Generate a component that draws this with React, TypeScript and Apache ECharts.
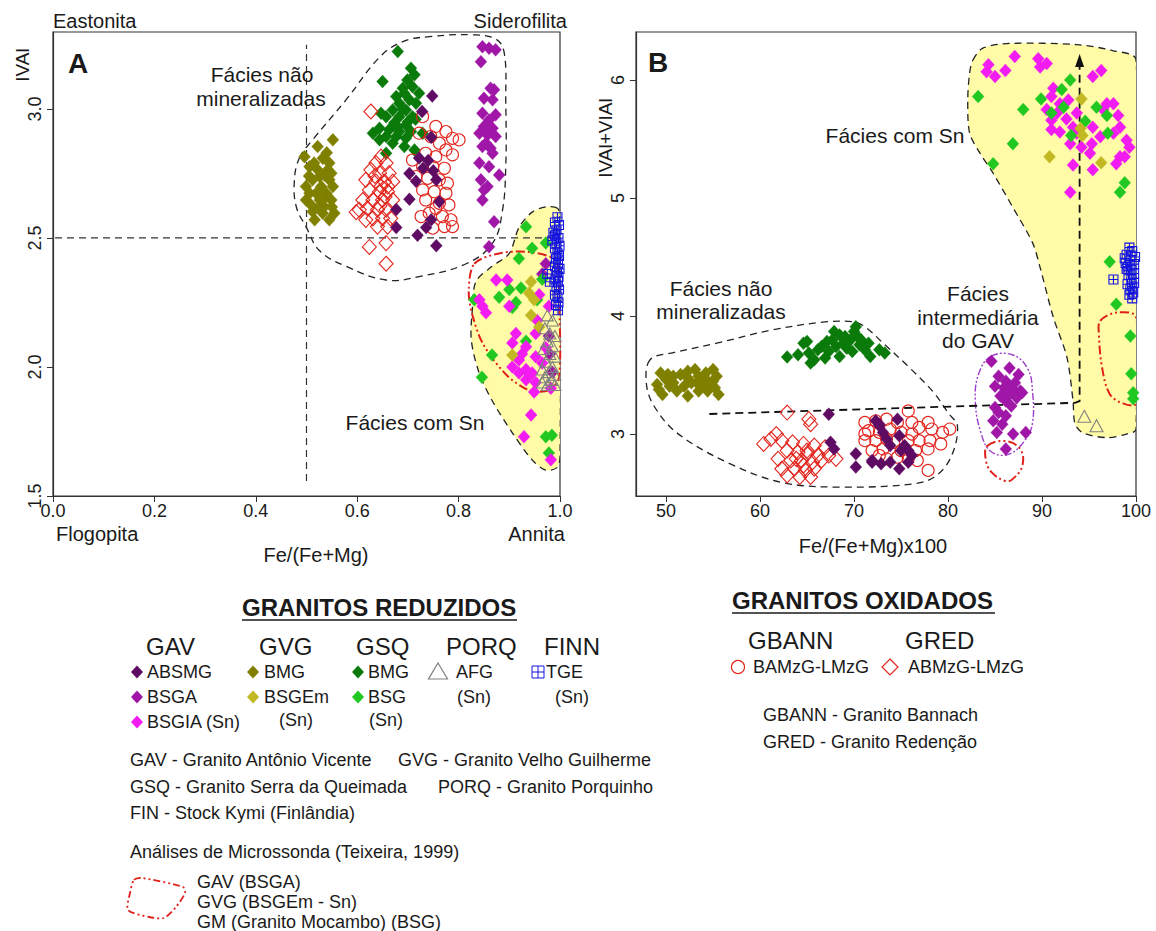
import React, { useEffect, useRef } from 'react';
import * as echarts from 'echarts';

// ---------- tick labels ----------
const ticksAx = [0, 0.2, 0.4, 0.6, 0.8, 1.0];
const ticksAy = [1.5, 2.0, 2.5, 3.0];
const ticksBx = [50, 60, 70, 80, 90, 100];
const ticksBy = [3, 4, 5, 6];

// ---------- Panel A data: Fe/(Fe+Mg) vs IVAl ----------
const A_GVG_BMG = [[0.522,2.854],[0.552,2.88],[0.496,2.815],[0.532,2.809],[0.506,2.776],[0.545,2.79],[0.522,2.764],[0.535,2.744],[0.512,2.725],[0.545,2.725],[0.552,2.699],[0.529,2.699],[0.499,2.699],[0.519,2.673],[0.539,2.673],[0.549,2.647],[0.526,2.647],[0.509,2.628],[0.535,2.621],[0.512,2.602],[0.555,2.596],[0.545,2.57],[0.499,2.647],[0.532,2.596],[0.542,2.764],[0.526,2.738],[0.506,2.673],[0.516,2.57],[0.549,2.751],[0.532,2.647],[0.515,2.79],[0.54,2.83],[0.505,2.74],[0.525,2.62],[0.55,2.62]];
const A_GSQ_BMG = [[0.680,3.222],[0.706,3.158],[0.713,3.132],[0.650,3.106],[0.699,3.112],[0.709,3.086],[0.693,3.061],[0.677,3.048],[0.703,3.035],[0.683,3.022],[0.716,3.022],[0.670,2.996],[0.696,2.996],[0.647,2.983],[0.657,2.97],[0.683,2.97],[0.709,2.97],[0.673,2.945],[0.696,2.938],[0.644,2.925],[0.663,2.919],[0.683,2.912],[0.706,2.912],[0.631,2.906],[0.657,2.893],[0.677,2.893],[0.696,2.886],[0.644,2.88],[0.670,2.867],[0.693,2.854],[0.657,2.828],[0.713,2.841],[0.729,2.906],[0.690,3.08],[0.722,3.061],[0.69,3.0],[0.70,2.95],[0.68,2.93],[0.715,2.96]];
const A_GRED = [[0.627,2.99],[0.647,2.815],[0.637,2.79],[0.657,2.79],[0.627,2.764],[0.644,2.751],[0.663,2.751],[0.617,2.725],[0.637,2.718],[0.654,2.718],[0.670,2.718],[0.624,2.686],[0.644,2.679],[0.660,2.679],[0.611,2.647],[0.631,2.647],[0.650,2.647],[0.670,2.647],[0.620,2.615],[0.640,2.609],[0.657,2.609],[0.604,2.609],[0.631,2.576],[0.650,2.576],[0.666,2.576],[0.617,2.57],[0.640,2.544],[0.660,2.544],[0.598,2.60],[0.624,2.465],[0.657,2.48],[0.657,2.40],[0.647,2.70],[0.635,2.74],[0.655,2.66],[0.645,2.625],[0.66,2.70]];
const A_GBANN = [[0.729,2.97],[0.755,2.932],[0.775,2.912],[0.722,2.906],[0.745,2.893],[0.788,2.886],[0.801,2.88],[0.762,2.867],[0.775,2.841],[0.735,2.828],[0.755,2.815],[0.788,2.822],[0.709,2.802],[0.729,2.776],[0.749,2.776],[0.772,2.77],[0.716,2.738],[0.739,2.731],[0.762,2.725],[0.778,2.712],[0.729,2.686],[0.752,2.679],[0.775,2.673],[0.735,2.647],[0.762,2.634],[0.781,2.628],[0.742,2.596],[0.768,2.583],[0.785,2.57],[0.749,2.538],[0.772,2.544],[0.788,2.544],[0.726,2.583],[0.755,2.615]];
const A_ABSMG = [[0.748,3.05],[0.728,2.99],[0.746,2.89],[0.722,2.81],[0.74,2.80],[0.703,2.75],[0.716,2.72],[0.756,2.725],[0.703,2.65],[0.677,2.61],[0.762,2.64],[0.746,2.57],[0.736,2.54],[0.677,2.54],[0.719,2.51],[0.756,2.47],[0.73,2.77],[0.75,2.76]];
const A_BSGA = [[0.847,3.241],[0.860,3.235],[0.873,3.229],[0.844,3.183],[0.863,3.08],[0.870,3.074],[0.850,3.041],[0.867,3.035],[0.847,2.983],[0.873,2.977],[0.860,2.957],[0.850,2.932],[0.867,2.925],[0.841,2.906],[0.857,2.899],[0.873,2.893],[0.854,2.867],[0.847,2.854],[0.863,2.848],[0.867,2.828],[0.841,2.79],[0.860,2.776],[0.880,2.744],[0.844,2.725],[0.857,2.699],[0.850,2.686],[0.847,2.647],[0.870,2.563],[0.860,2.466],[0.972,2.40],[0.965,2.36],[0.98,2.05],[0.985,1.98],[0.978,2.12]];
const A_BSGIA = [[0.874,2.337],[0.896,2.337],[0.841,2.26],[0.847,2.235],[0.854,2.21],[0.90,2.235],[0.959,2.28],[0.978,2.235],[0.955,2.18],[0.913,2.13],[0.906,2.093],[0.952,2.13],[0.933,2.078],[0.952,2.04],[0.919,2.027],[0.906,2.0],[0.933,1.99],[0.919,1.977],[0.945,1.977],[0.933,1.95],[0.952,1.94],[0.949,1.903],[0.982,1.918],[0.943,1.814],[0.929,1.73],[0.982,1.64],[0.965,2.015],[0.972,2.074],[0.925,2.05],[0.94,1.97]];
const A_BSGEm = [[0.943,2.33],[0.939,2.287],[0.949,2.26],[0.943,2.20],[0.959,2.155],[0.906,2.046]];
const A_BSG = [[0.933,2.543],[0.945,2.46],[0.972,2.48],[0.919,2.42],[0.965,2.34],[0.90,2.30],[0.923,2.306],[0.88,2.27],[0.913,2.25],[0.906,2.23],[0.955,2.26],[0.831,2.26],[0.933,2.10],[0.866,2.046],[0.846,1.96],[0.972,1.73],[0.984,1.735],[0.978,1.667]];
const A_AFG = [[0.975,2.20],[0.985,2.18],[0.97,2.15],[0.98,2.13],[0.99,2.12],[0.975,2.10],[0.985,2.08],[0.968,2.07],[0.98,2.05],[0.99,2.04],[0.972,2.02],[0.985,2.0],[0.965,1.99],[0.978,1.98],[0.99,1.97],[0.97,1.96],[0.983,1.95],[0.975,1.93],[0.99,1.93],[0.965,1.94]];
const A_TGE = [[0.995,2.58],[0.99,2.56],[0.998,2.55],[0.993,2.53],[0.99,2.51],[0.997,2.50],[0.993,2.48],[0.999,2.47],[0.99,2.46],[0.995,2.44],[0.998,2.43],[0.992,2.42],[0.996,2.40],[0.99,2.39],[0.999,2.38],[0.994,2.37],[0.997,2.35],[0.991,2.34],[0.996,2.33],[0.993,2.31],[0.998,2.30],[0.99,2.28],[0.995,2.27],[0.997,2.25],[0.992,2.24],[0.996,2.22],[0.975,2.36],[0.98,2.33],[0.985,2.49],[0.987,2.52]];

// Panel A outlines
const A_nonMinOutline = [[0.486,2.81],[0.512,2.88],[0.578,3.035],[0.644,3.2],[0.689,3.26],[0.742,3.28],[0.827,3.287],[0.874,3.27],[0.89,3.217],[0.893,3.035],[0.893,2.775],[0.886,2.6],[0.867,2.48],[0.815,2.40],[0.722,2.35],[0.657,2.337],[0.578,2.39],[0.526,2.45],[0.50,2.54],[0.48,2.62],[0.476,2.72]];
const A_snOutline = [[0.995,2.615],[0.972,2.62],[0.945,2.60],[0.919,2.54],[0.90,2.44],[0.866,2.39],[0.834,2.33],[0.827,2.22],[0.825,2.105],[0.84,1.98],[0.866,1.87],[0.906,1.745],[0.945,1.64],[0.972,1.60],[0.994,1.61],[1.0,1.65],[1.0,2.58]];
const A_probeOutline = [[0.831,2.40],[0.88,2.44],[0.94,2.445],[0.992,2.41],[0.998,2.26],[0.998,1.96],[0.978,1.91],[0.939,1.91],[0.894,1.97],[0.848,2.09],[0.826,2.21],[0.82,2.30]];
const A_vLine = [[0.5,1.558],[0.5,3.249]];
const A_hLine = [[0.004,2.5],[0.996,2.5]];

// ---------- Panel B data: Fe/(Fe+Mg)x100 vs IVAl+VIAl ----------
const B_GVG_BMG = [[49.42,3.518],[50,3.462],[49.04,3.42],[50.77,3.49],[51.54,3.504],[52.31,3.532],[53.08,3.546],[53.46,3.49],[54.23,3.518],[55,3.546],[55.38,3.49],[54.62,3.434],[53.85,3.406],[52.69,3.434],[51.92,3.406],[51.15,3.364],[50.38,3.406],[49.62,3.336],[52.31,3.322],[53.46,3.364],[54.42,3.364],[55.58,3.336],[55.19,3.392],[49.23,3.378],[50.77,3.434],[53.27,3.434],[54.04,3.476],[55,3.448],[52.31,3.476],[50.19,3.504]];
const B_GSQ_BMG = [[62.88,3.653],[64.04,3.672],[64.62,3.77],[65,3.784],[65.38,3.602],[65.77,3.63],[66.15,3.714],[66.54,3.742],[66.92,3.644],[67.31,3.70],[67.69,3.798],[67.88,3.868],[68.08,3.742],[68.46,3.658],[68.85,3.77],[69.04,3.826],[69.23,3.728],[69.62,3.798],[70,3.868],[70.19,3.91],[70.38,3.826],[70.58,3.756],[70.77,3.798],[71.15,3.714],[71.54,3.77],[71.73,3.658],[72.69,3.714],[73.27,3.686],[69.81,3.70],[68.46,3.84],[67.12,3.784],[65.19,3.686]];
const B_GRED = [[62.88,3.182],[65.19,3.126],[65.38,3.084],[61.73,3.0],[61.15,2.958],[62.31,2.944],[60.38,2.916],[63.46,2.93],[64.62,2.916],[65.77,2.902],[66.92,2.888],[62.88,2.86],[64.04,2.846],[65,2.832],[66.15,2.818],[67.31,2.818],[61.92,2.79],[63.27,2.776],[64.42,2.776],[65.58,2.762],[66.54,2.776],[68.08,2.79],[62.31,2.706],[63.65,2.706],[64.81,2.692],[65.77,2.706],[62.88,2.65],[64.23,2.636],[65.38,2.636],[63.85,2.79],[64.62,2.734],[65,2.86]];
const B_GBANN = [[75.77,3.196],[71.15,3.098],[72.31,3.112],[73.46,3.126],[74.62,3.098],[76.15,3.098],[77.88,3.098],[71.54,3.028],[72.69,3.014],[73.85,3.042],[75,3.014],[76.92,3.056],[78.27,3.042],[79.42,3.014],[80.19,3.042],[71.15,2.944],[72.31,2.944],[73.46,2.958],[74.23,2.93],[75.77,2.944],[76.92,2.944],[78.08,2.944],[79.23,2.916],[71.92,2.86],[73.08,2.874],[75,2.86],[76.54,2.86],[77.88,2.874],[73.46,2.79],[75.77,2.79],[76.73,2.776],[77.88,2.692],[72.69,2.818],[74.62,2.804],[71.15,3.0],[76.15,3.0]];
const B_ABSMG = [[67.31,3.168],[67.5,2.93],[67.88,2.874],[70.19,2.832],[70.19,2.72],[71.92,2.762],[72.31,3.112],[72.69,3.07],[73.08,3.014],[73.46,2.958],[73.85,2.902],[74.62,3.126],[74.81,2.986],[75,2.86],[75.38,2.902],[75.77,2.86],[76.15,2.818],[71.92,2.776],[72.88,2.748],[73.85,2.762],[74.81,2.706],[75.77,2.762],[72.69,3.084]];
const B_BSGA = [[84.62,3.616],[86.54,3.56],[87.5,3.504],[85.38,3.49],[86.15,3.448],[87.12,3.434],[85,3.406],[85.96,3.392],[86.92,3.378],[87.69,3.364],[86.54,3.336],[85.58,3.322],[87.31,3.308],[86.15,3.28],[85,3.224],[86.73,3.238],[85.38,3.182],[86.15,3.154],[84.81,3.112],[85.77,3.084],[85.19,3.014],[86.92,3.0],[88.27,3.014],[86.15,2.874],[87.88,3.35],[86.54,3.406]];
const B_BSGIA = [[84.3,6.13],[84.1,6.07],[85.0,6.03],[86.1,6.08],[87.1,6.20],[89.6,6.18],[90.5,6.14],[89.8,6.11],[91.2,5.93],[91.0,5.86],[91.9,5.80],[92.8,5.83],[90.5,5.75],[91.6,5.72],[92.6,5.67],[91.0,5.58],[91.9,5.56],[93.3,5.60],[93.7,5.55],[93.0,5.46],[94.2,5.43],[95.3,5.46],[95.4,5.60],[95.4,6.03],[96.3,6.08],[96.9,5.80],[97.6,5.80],[98.1,5.70],[98.3,5.60],[97.6,5.55],[96.2,5.52],[99.0,5.49],[99.3,5.43],[98.3,5.35],[98.8,5.35],[97.9,5.29],[95.4,5.24],[93.3,5.28],[93.0,5.05],[95.1,5.38],[93.7,5.72],[96.5,5.75],[91.0,5.66]];
const B_BSG = [[83.2,5.86],[88.0,5.75],[86.9,5.46],[84.8,5.29],[89.9,5.84],[92.1,5.92],[93.0,6.0],[91.0,5.72],[92.3,5.77],[93.1,5.53],[94.6,5.65],[95.8,5.77],[96.9,5.70],[97.0,5.55],[98.8,5.13],[98.3,5.05],[97.2,4.46],[97.9,4.10],[99.4,3.83],[99.5,3.51],[99.7,3.35],[99.7,3.30]];
const B_BSGEm = [[94.2,5.84],[94.1,5.59],[94.3,5.53],[90.8,5.35],[96.3,5.30]];
const B_TGE = [[97.6,4.31],[98.8,4.49],[99.3,4.58],[99.6,4.55],[99.0,4.52],[99.4,4.47],[99.8,4.44],[99.1,4.42],[99.5,4.39],[99.8,4.36],[99.2,4.35],[99.5,4.31],[99.8,4.28],[99.1,4.27],[99.4,4.23],[99.7,4.2],[99.3,4.18],[99.6,4.15],[99.0,4.40],[98.9,4.45],[99.9,4.50],[99.6,4.25]];
const B_AFG = [[94.5,3.15],[95.8,3.07]];

// Panel B outlines
const B_nonMinOutline = [[48.3,3.63],[47.9,3.43],[48.7,3.24],[51.15,3.01],[56.5,2.76],[62.3,2.59],[68.8,2.55],[76.5,2.58],[78.8,2.65],[80.4,2.82],[81.0,3.07],[80.0,3.18],[78.5,3.35],[75.8,3.57],[73.1,3.77],[71.15,3.91],[70.0,3.95],[66.9,3.95],[61.15,3.88],[55.4,3.77],[50.8,3.69]];
const B_snOutline = [[82.65,6.17],[83.7,6.27],[86.6,6.31],[93.7,6.30],[97.5,6.25],[100,6.17],[100,3.04],[99.0,3.0],[96.9,2.97],[94.35,3.01],[93.5,3.09],[93.3,3.28],[92.65,3.65],[91.2,3.99],[89.8,4.41],[89.0,4.62],[86.9,4.92],[84.8,5.21],[83.4,5.38],[82.3,5.55],[82.1,5.83],[82.3,6.06]];
const B_probeOutline1 = [[96.2,3.96],[98.0,4.03],[100,3.99],[100,3.26],[98.6,3.26],[97.2,3.34],[96.4,3.56],[96.05,3.85]];
const B_probeOutline2 = [[84.2,2.90],[86.15,2.94],[87.7,2.87],[87.9,2.73],[86.9,2.62],[86.15,2.60],[84.6,2.68],[84.0,2.79]];
const B_gavOutline = [[84.6,3.66],[86.9,3.67],[88.5,3.55],[89.0,3.35],[89.0,3.10],[88.3,2.96],[86.5,2.83],[84.6,2.85],[83.5,3.01],[82.9,3.29],[83.3,3.52]];
const B_trendArrow = [[54.6,3.17],[93.5,3.265],[94.0,3.28],[94.0,6.22]];

// ---------- styling ----------
const F = '"Liberation Sans", Arial, Helvetica, sans-serif';
const C = {
  absmg: '#5e0b63', bsga: '#a017a8', bsgia: '#f21bf2', gvgBmg: '#808000', bsgem: '#c2b823',
  gsqBmg: '#0a7a0a', bsg: '#22c822', afg: '#808080', tge: '#1515e0', red: '#e3261e',
  yellow: '#fffba6', probe: '#e0201a', purple: '#9b3fcb', ink: '#1a1a1a',
};
const DIAMOND = [12, 13];

function scatter(data: number[][], idx: number, symbol: string, size: any, color: string, open = false) {
  return {
    type: 'scatter', data, xAxisIndex: idx, yAxisIndex: idx, symbol, symbolSize: size, z: 5, silent: true,
    itemStyle: open
      ? { color: 'rgba(0,0,0,0)', borderColor: color, borderWidth: 1.1, opacity: 1 }
      : { color, borderColor: color, borderWidth: 0.3, opacity: 1 },
  };
}

function polygon(data: number[][], idx: number, style: any, smooth = 0.35, z = 2, clip = false) {
  return {
    type: 'custom', xAxisIndex: idx, yAxisIndex: idx, z, silent: true, clip,
    data: [data[0]],
    renderItem: (_p: any, api: any) => ({
      type: 'polygon',
      shape: { points: data.map((d) => api.coord(d)), smooth },
      style,
    }),
  };
}

function polyline(data: number[][], idx: number, style: any, z = 3) {
  return {
    type: 'custom', xAxisIndex: idx, yAxisIndex: idx, z, silent: true,
    data: [data[0]],
    renderItem: (_p: any, api: any) => ({
      type: 'polyline',
      shape: { points: data.map((d) => api.coord(d)) },
      style: { fill: 'none', ...style },
    }),
  };
}

const dashed = { stroke: '#222', lineWidth: 1.3, lineDash: [7, 5], fill: 'none' };
const dotdash = { stroke: C.probe, lineWidth: 2, lineDash: [9, 3, 2, 3, 2, 3], fill: 'none' };

function axisX(idx: number, min: number, max: number, ticks: number[], dec: number) {
  return {
    type: 'value', gridIndex: idx, min, max,
    axisLine: { show: true, onZero: false, lineStyle: { color: '#333', width: 1.2 } },
    axisTick: { show: true, inside: false, length: 6, customValues: ticks, lineStyle: { color: '#333' } },
    axisLabel: { customValues: ticks, formatter: (v: number) => v.toFixed(dec), fontSize: 18, color: C.ink, fontFamily: F, margin: 6 },
    splitLine: { show: false },
  };
}
function axisY(idx: number, min: number, max: number, ticks: number[], dec: number) {
  return {
    type: 'value', gridIndex: idx, min, max,
    axisLine: { show: true, onZero: false, lineStyle: { color: '#333', width: 1.2 } },
    axisTick: { show: true, inside: false, length: 6, customValues: ticks, lineStyle: { color: '#333' } },
    axisLabel: { customValues: ticks, formatter: (v: number) => v.toFixed(dec), fontSize: 18, color: C.ink, fontFamily: F, margin: 9, rotate: 90 },
    splitLine: { show: false },
  };
}

// graphic helpers
function T(text: string, x: number, y: number, size: number, o: any = {}) {
  return {
    type: 'text', x, y, rotation: o.rot || 0, silent: true, z: 100,
    style: {
      text, fill: o.fill || C.ink, font: `${o.bold ? 'bold ' : ''}${size}px ${F}`,
      textAlign: o.align || 'left', textVerticalAlign: 'middle', verticalAlign: 'middle',
    },
  };
}
function gDiamond(cx: number, cy: number, color: string) {
  return { type: 'polygon', silent: true, z: 100, shape: { points: [[cx, cy - 6.5], [cx + 6, cy], [cx, cy + 6.5], [cx - 6, cy]] }, style: { fill: color } };
}

const LS = 18; // legend font size
const HS = 24; // header font size

const legendGraphics: any[] = [
  // Panel letters and corner labels
  T('A', 78, 63, 28, { bold: true, align: 'center' }),
  T('B', 658, 62, 28, { bold: true, align: 'center' }),
  T('Eastonita', 53, 21, 20),
  T('Siderofilita', 567, 21, 20, { align: 'right' }),
  T('Flogopita', 56, 534, 20),
  T('Annita', 565, 534, 20, { align: 'right' }),
  T('Fe/(Fe+Mg)', 316, 555, 20, { align: 'center' }),
  T('Fe/(Fe+Mg)x100', 873, 546, 20, { align: 'center' }),
  T('IVAl', 22, 65, 19, { align: 'center', rot: Math.PI / 2 }),
  T('IVAl+VIAl', 605, 138, 19, { align: 'center', rot: Math.PI / 2 }),
  // annotations
  T('Fácies não', 262, 74, 21, { align: 'center' }),
  T('mineralizadas', 261, 98, 21, { align: 'center' }),
  T('Fácies com Sn', 415, 422, 21, { align: 'center' }),
  T('Fácies com Sn', 895, 135, 21, { align: 'center' }),
  T('Fácies não', 721, 288, 21, { align: 'center' }),
  T('mineralizadas', 721, 311, 21, { align: 'center' }),
  T('Fácies', 978, 293, 21, { align: 'center' }),
  T('intermediária', 978, 317, 21, { align: 'center' }),
  T('do GAV', 978, 340, 21, { align: 'center' }),

  // ---- GRANITOS REDUZIDOS ----
  T('GRANITOS REDUZIDOS', 242, 607, HS, { bold: true }),
  { type: 'line', silent: true, z: 100, shape: { x1: 242, y1: 620, x2: 517, y2: 620 }, style: { stroke: C.ink, lineWidth: 1.6 } },
  T('GAV', 146, 646, HS), T('GVG', 259, 646, HS), T('GSQ', 356, 646, HS), T('PORQ', 446, 646, HS), T('FINN', 544, 646, HS),
  gDiamond(137, 672, C.absmg), T('ABSMG', 147, 672, LS),
  gDiamond(137, 697, C.bsga), T('BSGA', 147, 697, LS),
  gDiamond(137, 722, C.bsgia), T('BSGIA (Sn)', 147, 722, LS),
  gDiamond(253, 672, C.gvgBmg), T('BMG', 264, 672, LS),
  gDiamond(253, 697, C.bsgem), T('BSGEm', 264, 697, LS),
  T('(Sn)', 296, 720, LS, { align: 'center' }),
  gDiamond(358, 672, C.gsqBmg), T('BMG', 368, 672, LS),
  gDiamond(358, 697, C.bsg), T('BSG', 368, 697, LS),
  T('(Sn)', 386, 720, LS, { align: 'center' }),
  { type: 'polygon', silent: true, z: 100, shape: { points: [[438, 663], [447.5, 679], [428.5, 679]] }, style: { fill: 'none', stroke: C.afg, lineWidth: 1.2 } },
  T('AFG', 456, 672, LS), T('(Sn)', 474, 697, LS, { align: 'center' }),
  { type: 'rect', silent: true, z: 100, shape: { x: 532, y: 666, width: 12, height: 12 }, style: { fill: 'none', stroke: C.tge, lineWidth: 1 } },
  { type: 'line', silent: true, z: 100, shape: { x1: 538, y1: 666, x2: 538, y2: 678 }, style: { stroke: C.tge, lineWidth: 1 } },
  { type: 'line', silent: true, z: 100, shape: { x1: 532, y1: 672, x2: 544, y2: 672 }, style: { stroke: C.tge, lineWidth: 1 } },
  T('TGE', 546, 672, LS), T('(Sn)', 572, 697, LS, { align: 'center' }),

  T('GAV - Granito Antônio Vicente', 130, 760, LS),
  T('GVG - Granito Velho Guilherme', 398, 760, LS),
  T('GSQ - Granito Serra da Queimada', 130, 787, LS),
  T('PORQ - Granito Porquinho', 438, 787, LS),
  T('FIN - Stock Kymi (Finlândia)', 130, 813, LS),
  T('Análises de Microssonda (Teixeira, 1999)', 130, 852, LS),
  { type: 'polygon', silent: true, z: 100, shape: { points: [[134, 880], [142, 878], [183, 887], [185, 893], [176, 907], [164, 918], [149, 917], [128, 910], [130, 893]], smooth: 0.25 }, style: { fill: 'none', stroke: C.probe, lineWidth: 1.8, lineDash: [7, 3, 2, 3, 2, 3] } },
  T('GAV (BSGA)', 197, 882, LS),
  T('GVG (BSGEm - Sn)', 197, 902, LS),
  T('GM (Granito Mocambo) (BSG)', 197, 922, LS),

  // ---- GRANITOS OXIDADOS ----
  T('GRANITOS OXIDADOS', 732, 600, HS, { bold: true }),
  { type: 'line', silent: true, z: 100, shape: { x1: 732, y1: 613, x2: 995, y2: 613 }, style: { stroke: C.ink, lineWidth: 1.6 } },
  T('GBANN', 748, 640, HS), T('GRED', 905, 640, HS),
  { type: 'circle', silent: true, z: 100, shape: { cx: 738, cy: 667, r: 6.5 }, style: { fill: 'none', stroke: C.red, lineWidth: 1.2 } },
  T('BAMzG-LMzG', 753, 667, LS),
  { type: 'polygon', silent: true, z: 100, shape: { points: [[890, 659], [898, 667], [890, 675], [882, 667]] }, style: { fill: 'none', stroke: C.red, lineWidth: 1.2 } },
  T('ABMzG-LMzG', 908, 667, LS),
  T('GBANN - Granito Bannach', 763, 715, LS),
  T('GRED - Granito Redenção', 763, 742, LS),
];

const squareCross = 'path://M0,0L10,0L10,10L0,10Z M5,0L5,10 M0,5L10,5';

export default function App() {
  const ref = useRef<HTMLDivElement>(null);
  useEffect(() => {
    document.body.style.margin = '0';
    const chart = echarts.init(ref.current!, null, { renderer: 'svg' });
    const option: any = {
      animation: false,
      backgroundColor: '#ffffff',
      textStyle: { fontFamily: F },
      grid: [
        { left: 53, top: 32, width: 507, height: 464, show: true, borderColor: '#333', borderWidth: 1.2, backgroundColor: 'rgba(0,0,0,0)' },
        { left: 636, top: 32, width: 500, height: 464, show: true, borderColor: '#333', borderWidth: 1.2, backgroundColor: 'rgba(0,0,0,0)' },
      ],
      xAxis: [axisX(0, 0, 1, ticksAx, 1), axisX(1, 46.8, 100, ticksBx, 0)],
      yAxis: [axisY(0, 1.5, 3.298, ticksAy, 1), axisY(1, 2.475, 6.407, ticksBy, 0)],
      series: [
        // Panel A envelopes
        polygon(A_snOutline, 0, { ...dashed, fill: C.yellow }, 0.3, 1, true),
        polygon(A_nonMinOutline, 0, dashed, 0.4, 2),
        polyline(A_vLine, 0, { stroke: '#333', lineWidth: 1.2, lineDash: [7, 5] }),
        polyline(A_hLine, 0, { stroke: '#333', lineWidth: 1.2, lineDash: [7, 5] }),
        polygon(A_probeOutline, 0, dotdash, 0.3, 3),
        // Panel B envelopes
        polygon(B_snOutline, 1, { ...dashed, fill: C.yellow }, 0.3, 1, true),
        polygon(B_nonMinOutline, 1, dashed, 0.35, 2),
        polygon(B_gavOutline, 1, { stroke: C.purple, lineWidth: 1.4, lineDash: [7, 2, 2, 2, 2, 2], fill: 'none' }, 0.4, 2),
        polygon(B_probeOutline1, 1, dotdash, 0.35, 3, true),
        polygon(B_probeOutline2, 1, dotdash, 0.4, 3),
        {
          type: 'custom', xAxisIndex: 1, yAxisIndex: 1, z: 3, silent: true, data: [B_trendArrow[0]],
          renderItem: (_p: any, api: any) => {
            const pts = B_trendArrow.map((d) => api.coord(d));
            const tip = pts[pts.length - 1];
            const line = pts.slice(0, -1).concat([[tip[0], tip[1] + 10]]);
            return {
              type: 'group',
              children: [
                { type: 'polyline', shape: { points: line }, style: { stroke: '#111', lineWidth: 1.8, lineDash: [8, 5], fill: 'none' } },
                { type: 'polygon', shape: { points: [[tip[0], tip[1]], [tip[0] - 4.5, tip[1] + 13], [tip[0] + 4.5, tip[1] + 13]] }, style: { fill: '#111' } },
              ],
            };
          },
        },
        // Panel A points
        scatter(A_GVG_BMG, 0, 'diamond', DIAMOND, C.gvgBmg),
        scatter(A_GSQ_BMG, 0, 'diamond', DIAMOND, C.gsqBmg),
        scatter(A_GRED, 0, 'diamond', [14, 15], C.red, true),
        scatter(A_GBANN, 0, 'circle', 12, C.red, true),
        scatter(A_ABSMG, 0, 'diamond', DIAMOND, C.absmg),
        scatter(A_BSGA, 0, 'diamond', DIAMOND, C.bsga),
        scatter(A_BSG, 0, 'diamond', DIAMOND, C.bsg),
        scatter(A_BSGIA, 0, 'diamond', DIAMOND, C.bsgia),
        scatter(A_BSGEm, 0, 'diamond', DIAMOND, C.bsgem),
        scatter(A_AFG, 0, 'triangle', [12, 11], C.afg, true),
        scatter(A_TGE, 0, squareCross, 9, C.tge, true),
        // Panel B points
        scatter(B_GVG_BMG, 1, 'diamond', DIAMOND, C.gvgBmg),
        scatter(B_GSQ_BMG, 1, 'diamond', DIAMOND, C.gsqBmg),
        scatter(B_GRED, 1, 'diamond', [14, 15], C.red, true),
        scatter(B_GBANN, 1, 'circle', 12, C.red, true),
        scatter(B_ABSMG, 1, 'diamond', DIAMOND, C.absmg),
        scatter(B_BSGA, 1, 'diamond', DIAMOND, C.bsga),
        scatter(B_BSGIA, 1, 'diamond', DIAMOND, C.bsgia),
        scatter(B_BSG, 1, 'diamond', DIAMOND, C.bsg),
        scatter(B_BSGEm, 1, 'diamond', DIAMOND, C.bsgem),
        scatter(B_TGE, 1, squareCross, 9, C.tge, true),
        scatter(B_AFG, 1, 'triangle', [13, 12], C.afg, true),
      ],
      graphic: legendGraphics,
    };
    chart.setOption(option);
    return () => chart.dispose();
  }, []);
  return <div ref={ref} style={{ width: 1156, height: 931 }} />;
}
